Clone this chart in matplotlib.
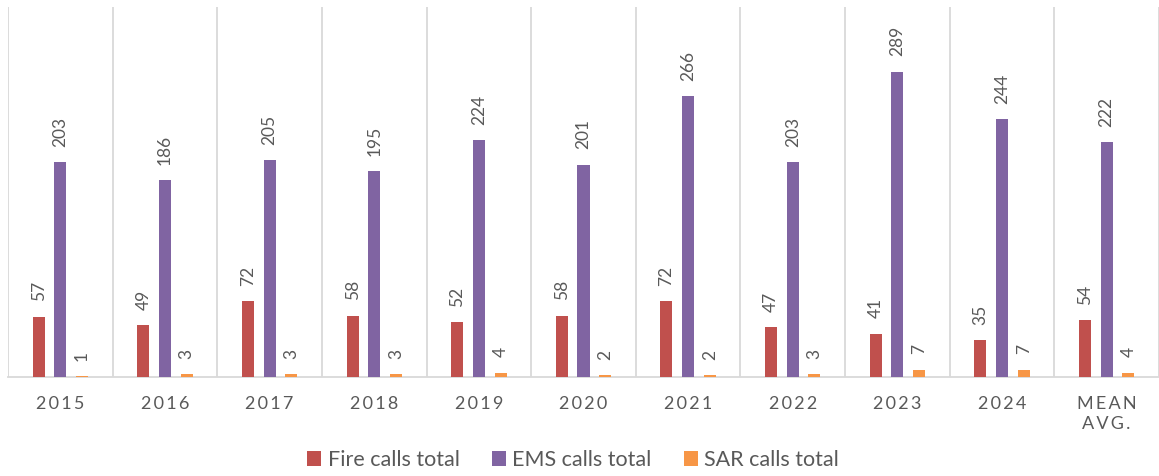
import matplotlib.pyplot as plt
import numpy as np

categories = ['2015', '2016', '2017', '2018', '2019', '2020', '2021', '2022', '2023', '2024', 'MEAN\nAVG.']
fire = [57, 49, 72, 58, 52, 58, 72, 47, 41, 35, 54]
ems = [203, 186, 205, 195, 224, 201, 266, 203, 289, 244, 222]
sar = [1, 3, 3, 3, 4, 2, 2, 3, 7, 7, 4]

series = [
    ("Fire calls total", fire, '#C0504D'),
    ("EMS calls total", ems, '#8064A2'),
    ("SAR calls total", sar, '#F79646'),
]

fam = ['Lato', 'DejaVu Sans']
txt = '#595959'
plt.rcParams['font.family'] = fam

fig = plt.figure(figsize=(11.59, 4.76), dpi=100)
ax = fig.add_axes([0.0069, 0.208, 0.9931, 0.777])

x = np.arange(len(categories))
w = 0.115
step = 0.207
for i, (name, vals, col) in enumerate(series):
    pos = x + (i - 1) * step
    ax.bar(pos, vals, width=w, color=col, label=name, zorder=3)
    for p, v in zip(pos, vals):
        ax.annotate(str(v), (p, v), xytext=(0, 11), textcoords='offset points',
                    rotation=90, ha='center', va='bottom', fontsize=12.5, color=txt)

ax.set_xlim(-0.5, len(categories) - 0.5)
ax.set_ylim(0, 350)
ax.set_yticks([])
for b in np.arange(-0.5, len(categories), 1.0):
    ax.axvline(b, color='#d9d9d9', lw=1.3, zorder=1)
for s in ['top', 'right', 'left']:
    ax.spines[s].set_visible(False)
ax.spines['bottom'].set_color('#d9d9d9')
ax.spines['bottom'].set_linewidth(1.3)

# letter-spaced tick labels
spaced = ['\u200a\u200a'.join(list(c.replace('\n', '|'))).replace('\u200a\u200a|\u200a\u200a', '\n') for c in categories]
ax.set_xticks(x)
ax.set_xticklabels(spaced, fontsize=13, color=txt, linespacing=1.25)
ax.tick_params(axis='x', length=0, pad=14)

ax.legend(loc='center', bbox_to_anchor=(0.491, -0.225), ncol=3, frameon=False,
          fontsize=15.5, labelcolor=txt, handlelength=0.65, handleheight=0.65,
          handletextpad=0.3, columnspacing=1.5)

fig.savefig('out.png', dpi=100)
